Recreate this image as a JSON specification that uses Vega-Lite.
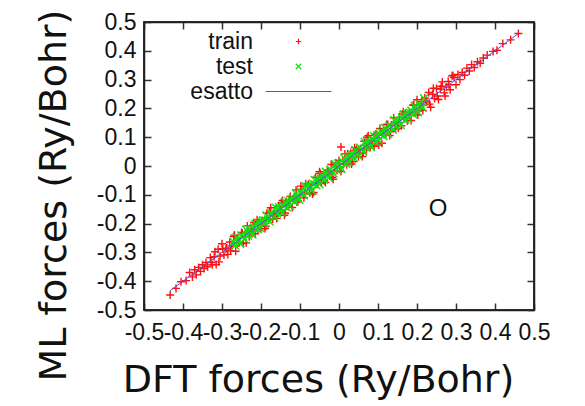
{
"$schema":"https://vega.github.io/schema/vega-lite/v6.json",
"width":390,"height":288,
"autosize":{"type":"none"},
"padding":{"left":144,"top":22,"right":51,"bottom":96},
"background":"white",
"config":{
 "view":{"stroke":"#222","strokeWidth":1.5},
 "axis":{"labelFont":"Liberation Sans","labelFontSize":23,"labelColor":"#111","domain":true,"domainColor":"#222","domainWidth":1.5,"grid":false,"ticks":true,"tickColor":"#333","tickSize":-7,"tickWidth":1.5,"labelOverlap":false,"labelFlush":false,"titleFont":"DejaVu Sans","titleFontSize":38,"titleFontWeight":"normal","titleColor":"#111"},
 "legend":{"orient":"none","legendX":143,"legendY":8,"title":null,"labelAlign":"right","labelOffset":-57,"labelFont":"Liberation Sans","labelFontSize":23,"labelColor":"#111","symbolSize":30,"symbolStrokeWidth":1.2,"rowPadding":1,"padding":0}
},
"data":{"values":[
{"s":"train","x":-0.33,"y":-0.318},{"s":"train","x":-0.325,"y":-0.343},{"s":"train","x":-0.32,"y":-0.315},{"s":"train","x":-0.315,"y":-0.342},{"s":"train","x":-0.31,"y":-0.289},{"s":"train","x":-0.305,"y":-0.313},{"s":"train","x":-0.3,"y":-0.27},{"s":"train","x":-0.295,"y":-0.309},{"s":"train","x":-0.29,"y":-0.288},{"s":"train","x":-0.285,"y":-0.307},{"s":"train","x":-0.28,"y":-0.264},{"s":"train","x":-0.275,"y":-0.278},{"s":"train","x":-0.27,"y":-0.245},{"s":"train","x":-0.265,"y":-0.296},{"s":"train","x":-0.26,"y":-0.251},{"s":"train","x":-0.255,"y":-0.266},{"s":"train","x":-0.25,"y":-0.231},{"s":"train","x":-0.245,"y":-0.269},{"s":"train","x":-0.24,"y":-0.233},{"s":"train","x":-0.235,"y":-0.208},{"s":"train","x":-0.23,"y":-0.246},{"s":"train","x":-0.225,"y":-0.226},{"s":"train","x":-0.22,"y":-0.206},{"s":"train","x":-0.215,"y":-0.235},{"s":"train","x":-0.21,"y":-0.187},{"s":"train","x":-0.205,"y":-0.193},{"s":"train","x":-0.2,"y":-0.218},{"s":"train","x":-0.195,"y":-0.19},{"s":"train","x":-0.19,"y":-0.217},{"s":"train","x":-0.185,"y":-0.164},{"s":"train","x":-0.18,"y":-0.188},{"s":"train","x":-0.175,"y":-0.145},{"s":"train","x":-0.17,"y":-0.184},{"s":"train","x":-0.165,"y":-0.163},{"s":"train","x":-0.16,"y":-0.182},{"s":"train","x":-0.155,"y":-0.139},{"s":"train","x":-0.15,"y":-0.153},{"s":"train","x":-0.145,"y":-0.12},{"s":"train","x":-0.14,"y":-0.171},{"s":"train","x":-0.135,"y":-0.126},{"s":"train","x":-0.13,"y":-0.141},{"s":"train","x":-0.125,"y":-0.106},{"s":"train","x":-0.12,"y":-0.144},{"s":"train","x":-0.115,"y":-0.108},{"s":"train","x":-0.11,"y":-0.083},{"s":"train","x":-0.105,"y":-0.121},{"s":"train","x":-0.1,"y":-0.101},{"s":"train","x":-0.095,"y":-0.081},{"s":"train","x":-0.09,"y":-0.11},{"s":"train","x":-0.085,"y":-0.062},{"s":"train","x":-0.08,"y":-0.068},{"s":"train","x":-0.075,"y":-0.093},{"s":"train","x":-0.07,"y":-0.065},{"s":"train","x":-0.065,"y":-0.092},{"s":"train","x":-0.06,"y":-0.039},{"s":"train","x":-0.055,"y":-0.063},{"s":"train","x":-0.05,"y":-0.02},{"s":"train","x":-0.045,"y":-0.059},{"s":"train","x":-0.04,"y":-0.038},{"s":"train","x":-0.035,"y":-0.057},{"s":"train","x":-0.03,"y":-0.014},{"s":"train","x":-0.025,"y":-0.028},{"s":"train","x":-0.02,"y":0.005},{"s":"train","x":-0.015,"y":-0.046},{"s":"train","x":-0.01,"y":-0.001},{"s":"train","x":-0.005,"y":-0.016},{"s":"train","x":0,"y":0.019},{"s":"train","x":0.005,"y":-0.019},{"s":"train","x":0.01,"y":0.017},{"s":"train","x":0.015,"y":0.042},{"s":"train","x":0.02,"y":0.004},{"s":"train","x":0.025,"y":0.024},{"s":"train","x":0.03,"y":0.044},{"s":"train","x":0.035,"y":0.015},{"s":"train","x":0.04,"y":0.063},{"s":"train","x":0.045,"y":0.057},{"s":"train","x":0.05,"y":0.032},{"s":"train","x":0.055,"y":0.06},{"s":"train","x":0.06,"y":0.033},{"s":"train","x":0.065,"y":0.086},{"s":"train","x":0.07,"y":0.062},{"s":"train","x":0.075,"y":0.105},{"s":"train","x":0.08,"y":0.066},{"s":"train","x":0.085,"y":0.087},{"s":"train","x":0.09,"y":0.068},{"s":"train","x":0.095,"y":0.111},{"s":"train","x":0.1,"y":0.097},{"s":"train","x":0.105,"y":0.13},{"s":"train","x":0.11,"y":0.079},{"s":"train","x":0.115,"y":0.124},{"s":"train","x":0.12,"y":0.109},{"s":"train","x":0.125,"y":0.144},{"s":"train","x":0.13,"y":0.106},{"s":"train","x":0.135,"y":0.142},{"s":"train","x":0.14,"y":0.167},{"s":"train","x":0.145,"y":0.129},{"s":"train","x":0.15,"y":0.149},{"s":"train","x":0.155,"y":0.169},{"s":"train","x":0.16,"y":0.14},{"s":"train","x":0.165,"y":0.188},{"s":"train","x":0.17,"y":0.182},{"s":"train","x":0.175,"y":0.157},{"s":"train","x":0.18,"y":0.185},{"s":"train","x":0.185,"y":0.158},{"s":"train","x":0.19,"y":0.211},{"s":"train","x":0.195,"y":0.187},{"s":"train","x":0.2,"y":0.23},{"s":"train","x":0.205,"y":0.191},{"s":"train","x":0.21,"y":0.212},{"s":"train","x":0.215,"y":0.193},{"s":"train","x":0.22,"y":0.236},{"s":"train","x":0.225,"y":0.222},{"s":"train","x":0.23,"y":0.255},{"s":"train","x":0.235,"y":0.204},{"s":"train","x":0.24,"y":0.249},{"s":"train","x":0.245,"y":0.234},{"s":"train","x":0.25,"y":0.269},{"s":"train","x":0.255,"y":0.231},{"s":"train","x":0.26,"y":0.267},{"s":"train","x":0.265,"y":0.292},{"s":"train","x":0.27,"y":0.254},{"s":"train","x":0.275,"y":0.274},{"s":"train","x":0.28,"y":0.294},{"s":"train","x":0.285,"y":0.265},{"s":"train","x":0.29,"y":0.313},{"s":"train","x":0.295,"y":0.307},{"s":"train","x":0.3,"y":0.282},
{"s":"train","x":-0.328,"y":-0.334},{"s":"train","x":-0.318,"y":-0.298},{"s":"train","x":-0.308,"y":-0.333},{"s":"train","x":-0.298,"y":-0.287},{"s":"train","x":-0.288,"y":-0.285},{"s":"train","x":-0.278,"y":-0.295},{"s":"train","x":-0.268,"y":-0.24},{"s":"train","x":-0.258,"y":-0.267},{"s":"train","x":-0.248,"y":-0.233},{"s":"train","x":-0.238,"y":-0.267},{"s":"train","x":-0.228,"y":-0.228},{"s":"train","x":-0.218,"y":-0.196},{"s":"train","x":-0.208,"y":-0.221},{"s":"train","x":-0.198,"y":-0.19},{"s":"train","x":-0.188,"y":-0.209},{"s":"train","x":-0.178,"y":-0.16},{"s":"train","x":-0.168,"y":-0.172},{"s":"train","x":-0.158,"y":-0.164},{"s":"train","x":-0.148,"y":-0.128},{"s":"train","x":-0.138,"y":-0.163},{"s":"train","x":-0.128,"y":-0.117},{"s":"train","x":-0.118,"y":-0.115},{"s":"train","x":-0.108,"y":-0.125},{"s":"train","x":-0.098,"y":-0.07},{"s":"train","x":-0.088,"y":-0.097},{"s":"train","x":-0.078,"y":-0.063},{"s":"train","x":-0.068,"y":-0.097},{"s":"train","x":-0.058,"y":-0.058},{"s":"train","x":-0.048,"y":-0.026},{"s":"train","x":-0.038,"y":-0.051},{"s":"train","x":-0.028,"y":-0.02},{"s":"train","x":-0.018,"y":-0.039},{"s":"train","x":-0.008,"y":0.01},{"s":"train","x":0.002,"y":-0.002},{"s":"train","x":0.012,"y":0.006},{"s":"train","x":0.022,"y":0.042},{"s":"train","x":0.032,"y":0.007},{"s":"train","x":0.042,"y":0.053},{"s":"train","x":0.052,"y":0.055},{"s":"train","x":0.062,"y":0.045},{"s":"train","x":0.072,"y":0.1},{"s":"train","x":0.082,"y":0.073},{"s":"train","x":0.092,"y":0.107},{"s":"train","x":0.102,"y":0.073},{"s":"train","x":0.112,"y":0.112},{"s":"train","x":0.122,"y":0.144},{"s":"train","x":0.132,"y":0.119},{"s":"train","x":0.142,"y":0.15},{"s":"train","x":0.152,"y":0.131},{"s":"train","x":0.162,"y":0.18},{"s":"train","x":0.172,"y":0.168},{"s":"train","x":0.182,"y":0.176},{"s":"train","x":0.192,"y":0.212},{"s":"train","x":0.202,"y":0.177},{"s":"train","x":0.212,"y":0.223},{"s":"train","x":0.222,"y":0.225},{"s":"train","x":0.232,"y":0.215},{"s":"train","x":0.242,"y":0.27},{"s":"train","x":0.252,"y":0.243},{"s":"train","x":0.262,"y":0.277},{"s":"train","x":0.272,"y":0.243},{"s":"train","x":0.282,"y":0.282},{"s":"train","x":0.292,"y":0.314},
{"s":"train","x":-0.433,"y":-0.448},{"s":"train","x":-0.418,"y":-0.425},{"s":"train","x":-0.405,"y":-0.402},{"s":"train","x":-0.392,"y":-0.398},{"s":"train","x":-0.383,"y":-0.37},{"s":"train","x":-0.376,"y":-0.385},{"s":"train","x":-0.37,"y":-0.36},{"s":"train","x":-0.366,"y":-0.378},{"s":"train","x":-0.36,"y":-0.352},{"s":"train","x":-0.355,"y":-0.366},{"s":"train","x":-0.35,"y":-0.343},{"s":"train","x":-0.346,"y":-0.356},{"s":"train","x":-0.341,"y":-0.335},{"s":"train","x":-0.337,"y":-0.35},
{"s":"train","x":0.305,"y":0.318},{"s":"train","x":0.31,"y":0.3},{"s":"train","x":0.316,"y":0.325},{"s":"train","x":0.322,"y":0.315},{"s":"train","x":0.328,"y":0.34},{"s":"train","x":0.334,"y":0.33},{"s":"train","x":0.34,"y":0.352},{"s":"train","x":0.347,"y":0.342},{"s":"train","x":0.355,"y":0.362},{"s":"train","x":0.362,"y":0.357},{"s":"train","x":0.37,"y":0.375},{"s":"train","x":0.38,"y":0.385},{"s":"train","x":0.395,"y":0.398},{"s":"train","x":0.405,"y":0.402},{"s":"train","x":0.42,"y":0.425},{"s":"train","x":0.44,"y":0.438},{"s":"train","x":0.46,"y":0.46},{"s":"train","x":0.005,"y":0.066},
{"s":"test","x":-0.27,"y":-0.264},{"s":"test","x":-0.266,"y":-0.276},{"s":"test","x":-0.262,"y":-0.248},{"s":"test","x":-0.258,"y":-0.262},{"s":"test","x":-0.254,"y":-0.269},{"s":"test","x":-0.25,"y":-0.241},{"s":"test","x":-0.246,"y":-0.245},{"s":"test","x":-0.242,"y":-0.254},{"s":"test","x":-0.238,"y":-0.221},{"s":"test","x":-0.234,"y":-0.241},{"s":"test","x":-0.23,"y":-0.219},{"s":"test","x":-0.226,"y":-0.228},{"s":"test","x":-0.222,"y":-0.238},{"s":"test","x":-0.218,"y":-0.214},{"s":"test","x":-0.214,"y":-0.201},{"s":"test","x":-0.21,"y":-0.219},{"s":"test","x":-0.206,"y":-0.198},{"s":"test","x":-0.202,"y":-0.215},{"s":"test","x":-0.198,"y":-0.195},{"s":"test","x":-0.194,"y":-0.188},{"s":"test","x":-0.19,"y":-0.2},{"s":"test","x":-0.186,"y":-0.172},{"s":"test","x":-0.182,"y":-0.186},{"s":"test","x":-0.178,"y":-0.193},{"s":"test","x":-0.174,"y":-0.165},{"s":"test","x":-0.17,"y":-0.169},{"s":"test","x":-0.166,"y":-0.178},{"s":"test","x":-0.162,"y":-0.145},{"s":"test","x":-0.158,"y":-0.165},{"s":"test","x":-0.154,"y":-0.143},{"s":"test","x":-0.15,"y":-0.152},{"s":"test","x":-0.146,"y":-0.162},{"s":"test","x":-0.142,"y":-0.138},{"s":"test","x":-0.138,"y":-0.125},{"s":"test","x":-0.134,"y":-0.143},{"s":"test","x":-0.13,"y":-0.122},{"s":"test","x":-0.126,"y":-0.139},{"s":"test","x":-0.122,"y":-0.119},{"s":"test","x":-0.118,"y":-0.112},{"s":"test","x":-0.114,"y":-0.124},{"s":"test","x":-0.11,"y":-0.096},{"s":"test","x":-0.106,"y":-0.11},{"s":"test","x":-0.102,"y":-0.117},{"s":"test","x":-0.098,"y":-0.089},{"s":"test","x":-0.094,"y":-0.093},{"s":"test","x":-0.09,"y":-0.102},{"s":"test","x":-0.086,"y":-0.069},{"s":"test","x":-0.082,"y":-0.089},{"s":"test","x":-0.078,"y":-0.067},{"s":"test","x":-0.074,"y":-0.076},{"s":"test","x":-0.07,"y":-0.086},{"s":"test","x":-0.066,"y":-0.062},{"s":"test","x":-0.062,"y":-0.049},{"s":"test","x":-0.058,"y":-0.067},{"s":"test","x":-0.054,"y":-0.046},{"s":"test","x":-0.05,"y":-0.063},{"s":"test","x":-0.046,"y":-0.043},{"s":"test","x":-0.042,"y":-0.036},{"s":"test","x":-0.038,"y":-0.048},{"s":"test","x":-0.034,"y":-0.02},{"s":"test","x":-0.03,"y":-0.034},{"s":"test","x":-0.026,"y":-0.041},{"s":"test","x":-0.022,"y":-0.013},{"s":"test","x":-0.018,"y":-0.017},{"s":"test","x":-0.014,"y":-0.026},{"s":"test","x":-0.01,"y":0.007},{"s":"test","x":-0.006,"y":-0.013},{"s":"test","x":-0.002,"y":0.009},{"s":"test","x":0.002,"y":0},{"s":"test","x":0.006,"y":-0.01},{"s":"test","x":0.01,"y":0.014},{"s":"test","x":0.014,"y":0.027},{"s":"test","x":0.018,"y":0.009},{"s":"test","x":0.022,"y":0.03},{"s":"test","x":0.026,"y":0.013},{"s":"test","x":0.03,"y":0.033},{"s":"test","x":0.034,"y":0.04},{"s":"test","x":0.038,"y":0.028},{"s":"test","x":0.042,"y":0.056},{"s":"test","x":0.046,"y":0.042},{"s":"test","x":0.05,"y":0.035},{"s":"test","x":0.054,"y":0.063},{"s":"test","x":0.058,"y":0.059},{"s":"test","x":0.062,"y":0.05},{"s":"test","x":0.066,"y":0.083},{"s":"test","x":0.07,"y":0.063},{"s":"test","x":0.074,"y":0.085},{"s":"test","x":0.078,"y":0.076},{"s":"test","x":0.082,"y":0.066},{"s":"test","x":0.086,"y":0.09},{"s":"test","x":0.09,"y":0.103},{"s":"test","x":0.094,"y":0.085},{"s":"test","x":0.098,"y":0.106},{"s":"test","x":0.102,"y":0.089},{"s":"test","x":0.106,"y":0.109},{"s":"test","x":0.11,"y":0.116},{"s":"test","x":0.114,"y":0.104},{"s":"test","x":0.118,"y":0.132},{"s":"test","x":0.122,"y":0.118},{"s":"test","x":0.126,"y":0.111},{"s":"test","x":0.13,"y":0.139},{"s":"test","x":0.134,"y":0.135},{"s":"test","x":0.138,"y":0.126},{"s":"test","x":0.142,"y":0.159},{"s":"test","x":0.146,"y":0.139},{"s":"test","x":0.15,"y":0.161},{"s":"test","x":0.154,"y":0.152},{"s":"test","x":0.158,"y":0.142},{"s":"test","x":0.162,"y":0.166},{"s":"test","x":0.166,"y":0.179},{"s":"test","x":0.17,"y":0.161},{"s":"test","x":0.174,"y":0.182},{"s":"test","x":0.178,"y":0.165},{"s":"test","x":0.182,"y":0.185},{"s":"test","x":0.186,"y":0.192},{"s":"test","x":0.19,"y":0.18},{"s":"test","x":0.194,"y":0.208},{"s":"test","x":0.198,"y":0.194},{"s":"test","x":0.202,"y":0.187},{"s":"test","x":0.206,"y":0.215},{"s":"test","x":0.21,"y":0.211},{"s":"test","x":0.214,"y":0.202},{"s":"test","x":0.218,"y":0.235},
{"s":"esatto","x":-0.433,"y":-0.433},{"s":"esatto","x":0.46,"y":0.46}
]},
"layer":[
 {"data":{"values":[{}]},
  "mark":{"type":"rect","filled":false,"stroke":"#222","strokeWidth":1.5},
  "encoding":{
   "x":{"datum":-0.5,"type":"quantitative","scale":{"domain":[-0.5,0.5],"nice":false,"zero":false},"axis":null},
   "x2":{"datum":0.5},
   "y":{"datum":-0.5,"type":"quantitative","scale":{"domain":[-0.5,0.5],"nice":false,"zero":false},"axis":null},
   "y2":{"datum":0.5}
  }},
 {"transform":[{"filter":"datum.s != 'esatto'"}],
  "mark":{"type":"point","filled":false,"opacity":1,"strokeWidth":1.4,"size":64},
  "encoding":{
   "x":{"field":"x","type":"quantitative","scale":{"domain":[-0.5,0.5],"nice":false,"zero":false},
        "axis":{"values":[-0.5,-0.4,-0.3,-0.2,-0.1,0,0.1,0.2,0.3,0.4,0.5],"labelExpr":"replace(format(datum.value,'.1~f'),'−','-')","labelPadding":18,"title":"DFT forces (Ry/Bohr)","titleX":174,"titleY":81,"titleBaseline":"alphabetic","titleAlign":"center","titleAnchor":"start"}},
   "y":{"field":"y","type":"quantitative","scale":{"domain":[-0.5,0.5],"nice":false,"zero":false},
        "axis":{"values":[-0.5,-0.4,-0.3,-0.2,-0.1,0,0.1,0.2,0.3,0.4,0.5],"labelExpr":"replace(format(datum.value,'.1~f'),'−','-')","labelPadding":15,"title":"ML forces (Ry/Bohr)","titleX":-79,"titleY":173,"titleAngle":-90,"titleBaseline":"alphabetic","titleAlign":"center","titleAnchor":"start"}},
   "color":{"field":"s","type":"nominal","scale":{"domain":["train","test","esatto"],"range":["#ff1010","#10e010","#5050ee"]},"legend":{"title":null}},
   "shape":{"field":"s","type":"nominal","scale":{"domain":["train","test","esatto"],"range":["M-1,0L1,0M0,-1L0,1","M-1,-1L1,1M-1,1L1,-1","M-12,0L12,0"]},"legend":{"title":null}}
  }},
 {"transform":[{"filter":"datum.s == 'esatto'"}],
  "mark":{"type":"line","strokeWidth":1},
  "encoding":{
   "x":{"field":"x","type":"quantitative","axis":null},
   "y":{"field":"y","type":"quantitative","axis":null},
   "color":{"field":"s","type":"nominal","legend":{"title":null}}
  }},
 {"data":{"values":[{"x":0.254,"y":-0.149,"t":"O"}]},
  "mark":{"type":"text","font":"Liberation Sans","fontSize":24,"color":"#111"},
  "encoding":{
   "x":{"field":"x","type":"quantitative","axis":{"orient":"top","labels":false,"title":null,"values":[-0.5,-0.4,-0.3,-0.2,-0.1,0,0.1,0.2,0.3,0.4,0.5]}},
   "y":{"field":"y","type":"quantitative","axis":{"orient":"right","labels":false,"title":null,"values":[-0.5,-0.4,-0.3,-0.2,-0.1,0,0.1,0.2,0.3,0.4,0.5]}},
   "text":{"field":"t"}
  }}
],
"resolve":{"axis":{"x":"independent","y":"independent"}}
}
